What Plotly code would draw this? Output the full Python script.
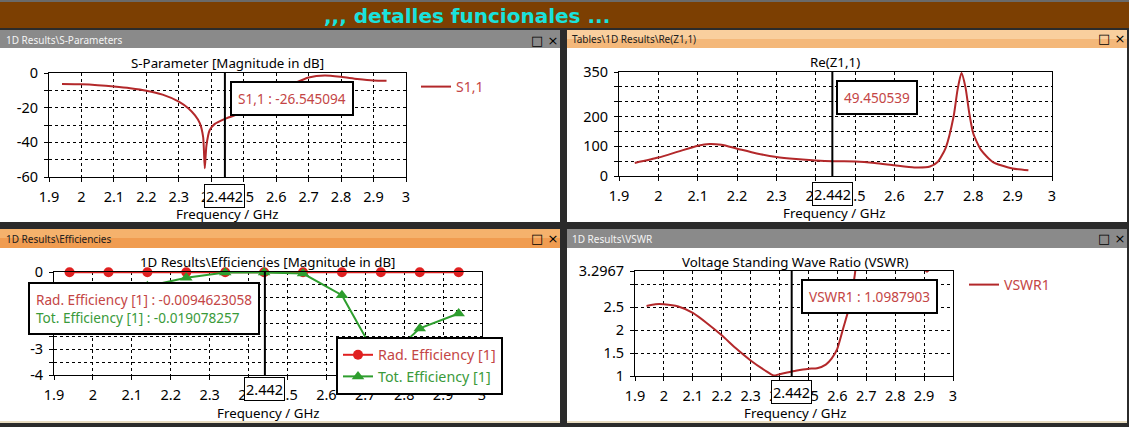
import plotly.graph_objects as go

W, H = 1129, 427

# ---------------- data ----------------
s11_freq = [1.94, 2.0, 2.05, 2.1, 2.15, 2.2, 2.25, 2.3, 2.33, 2.35, 2.365, 2.375, 2.38,
            2.385, 2.395, 2.41, 2.442, 2.47, 2.5, 2.55, 2.6, 2.62, 2.64, 2.66, 2.7,
            2.75, 2.8, 2.85, 2.9, 2.94]
s11_db = [-6.3, -6.5, -7.0, -7.8, -8.8, -10.2, -12.5, -16.5, -20.5, -24.5, -29, -37, -55,
          -42, -33, -29.5, -26.5, -24.5, -22.6, -19.7, -12.7, -9.3, -7.4, -5.6, -2.6,
          -1.4, -2.2, -3.4, -4.3, -4.5]

zre_freq = [1.94, 2.0, 2.05, 2.1, 2.13, 2.16, 2.2, 2.25, 2.3, 2.35, 2.4, 2.442, 2.5, 2.55,
            2.6, 2.65, 2.69, 2.71, 2.73, 2.75, 2.76, 2.77, 2.78, 2.79, 2.8, 2.82, 2.85,
            2.9, 2.94]
zre_ohm = [44, 62, 82, 102, 108, 105, 92, 76, 64, 57, 52, 49.45, 49, 44, 36, 29, 32, 48,
           95, 200, 290, 347, 300, 210, 143, 87, 47, 25, 19]

eff_freq = [1.94, 2.04, 2.14, 2.24, 2.34, 2.44, 2.54, 2.64, 2.74, 2.84, 2.94]
rad_eff_db = [-0.01, -0.01, -0.01, -0.01, -0.01, -0.01, -0.01, -0.01, -0.01, -0.01, -0.01]
tot_eff_db = [-1.1, -0.85, -0.55, -0.22, -0.02, -0.02, -0.06, -0.9, -3.6, -2.19, -1.61]

vswr_freq = [1.94, 1.97, 2.0, 2.05, 2.1, 2.15, 2.2, 2.25, 2.3, 2.35, 2.38, 2.4, 2.442,
             2.47, 2.5, 2.53, 2.56, 2.58, 2.6, 2.62, 2.64, 2.66, 2.68, 2.7, 2.75, 2.8,
             2.85, 2.895, 2.91, 2.925, 2.94]
vswr_val = [2.53, 2.57, 2.57, 2.52, 2.38, 2.15, 1.89, 1.6, 1.34, 1.12, 1.01, 1.04, 1.099,
            1.13, 1.16, 1.17, 1.25, 1.38, 1.6, 2.04, 2.48, 3.2, 4.5, 8.7, 13.4, 7.6,
            5.0, 3.4, 3.28, 3.4, 3.7]

marker_freq = 2.442
marker_label = "2.442"
s11_readout = "S1,1 : -26.545094"
zre_readout = "49.450539"
rad_readout = "Rad. Efficiency [1] : -0.0094623058"
tot_readout = "Tot. Efficiency [1] : -0.019078257"
vswr_readout = "VSWR1 : 1.0987903"

x_tick_vals = [1.9, 2.0, 2.1, 2.2, 2.3, 2.4, 2.5, 2.6, 2.7, 2.8, 2.9, 3.0]
x_tick_text = ["1.9", "2", "2.1", "2.2", "2.3", "2.4", "2.5", "2.6", "2.7", "2.8", "2.9", "3"]
s11_y_vals = [0, -10, -20, -30, -40, -50, -60]
s11_y_text = ["0", "", "-20", "", "-40", "", "-60"]
zre_y_vals = [0, 50, 100, 150, 200, 250, 300, 350]
zre_y_text = ["0", "", "100", "", "200", "", "", "350"]
eff_y_vals = [0, -0.5, -1, -1.5, -2, -2.5, -3, -3.5, -4]
eff_y_text = ["0", "", "", "", "", "", "-3", "", "-4"]
vswr_y_vals = [1, 1.5, 2, 2.5, 3, 3.2967]
vswr_y_text = ["1", "1.5", "2", "2.5", "", "3.2967"]

# ---------------- style ----------------
FONT = "Noto Sans, DejaVu Sans, sans-serif"
CURVE = "#b3282a"
TXT_RED = "#c44545"
RAD_C = "#e02020"
TOT_C = "#2e9e2e"
TXT_GRN = "#3a9a3a"
FS = 13.3
FS_TICK = 14.5


def px(x):
    return x / W


def py(y):
    return 1 - y / H


def rect(x0, y0, x1, y1, color):
    return dict(type="rect", xref="paper", yref="paper", x0=px(x0), x1=px(x1),
                y0=py(y1), y1=py(y0), fillcolor=color, line_width=0, layer="below")


fig = go.Figure()

# traces
fig.add_trace(go.Scatter(x=s11_freq, y=s11_db, mode="lines", name="S1,1",
                         line=dict(color=CURVE, width=2, shape="spline", smoothing=0.6),
                         xaxis="x", yaxis="y", legend="legend"))
fig.add_trace(go.Scatter(x=zre_freq, y=zre_ohm, mode="lines", name="Re(Z1,1)",
                         line=dict(color=CURVE, width=2, shape="spline", smoothing=0.6),
                         xaxis="x2", yaxis="y2", showlegend=False))
fig.add_trace(go.Scatter(x=eff_freq, y=rad_eff_db, mode="lines+markers",
                         name=f"<span style='color:{TXT_RED}'>Rad. Efficiency [1]</span>",
                         line=dict(color=RAD_C, width=2),
                         marker=dict(symbol="circle", size=10, color=RAD_C),
                         cliponaxis=False, xaxis="x3", yaxis="y3", legend="legend3"))
fig.add_trace(go.Scatter(x=eff_freq, y=tot_eff_db, mode="lines+markers",
                         name=f"<span style='color:{TXT_GRN}'>Tot. Efficiency [1]</span>",
                         line=dict(color=TOT_C, width=2),
                         marker=dict(symbol="triangle-up", size=11, color=TOT_C),
                         cliponaxis=False, xaxis="x3", yaxis="y3", legend="legend3"))
fig.add_trace(go.Scatter(x=vswr_freq, y=vswr_val, mode="lines", name="VSWR1",
                         line=dict(color=CURVE, width=2, shape="spline", smoothing=0.5),
                         xaxis="x4", yaxis="y4", legend="legend2"))

axis_common = dict(showline=True, linecolor="black", linewidth=1, mirror=True,
                   showgrid=True, gridcolor="black", griddash="3px,3px", gridwidth=1,
                   zeroline=False, ticks="outside", ticklen=4, tickcolor="black",
                   automargin=False,
                   tickfont=dict(family=FONT, size=FS_TICK, color="black"), fixedrange=True)

panels = [
    # (x0, x1, ytop, ybot, yrange, yvals, ytext)
    (49, 406, 73, 177, [-60, 0], s11_y_vals, s11_y_text),
    (619, 1052, 72, 176, [0, 350], zre_y_vals, zre_y_text),
    (54, 482, 272, 375, [-4, 0], eff_y_vals, eff_y_text),
    (635, 953, 271, 376, [1, 3.2967], vswr_y_vals, vswr_y_text),
]

for i, (x0, x1, yt, yb, yr, yv, ytx) in enumerate(panels, start=1):
    sx = "" if i == 1 else str(i)
    fig.layout["xaxis" + sx] = dict(axis_common, domain=[px(x0), px(x1)],
                                    anchor="y" + sx, range=[1.9, 3.0],
                                    tickvals=x_tick_vals, ticktext=x_tick_text,
                                    ticklabelstandoff=3)
    fig.layout["yaxis" + sx] = dict(axis_common, domain=[py(yb), py(yt)],
                                    anchor="x" + sx, range=yr,
                                    tickvals=yv, ticktext=ytx, ticklabelstandoff=3)

shapes = [
    rect(0, 0, W, 28, "#7c3f02"),
    rect(0, 0, W, 2, "#6a6a6a"),
    rect(0, 48, 560, 222, "white"),
    rect(567, 48, 1127, 222, "white"),
    rect(0, 248, 560, 421, "white"),
    rect(567, 248, 1127, 421, "white"),
    rect(0, 30, 560, 48, "#8a8a8a"),
    rect(567, 30, 1127, 39, "#f9cf9e"),
    rect(567, 39, 1127, 48, "#f4b87a"),
    rect(0, 229, 560, 238, "#f5b26c"),
    rect(0, 238, 560, 248, "#f09c50"),
    rect(567, 229, 1127, 248, "#8a8a8a"),
    rect(0, 421, 560, 423, "#e8dcc0"),
    rect(567, 421, 1127, 423, "#e8dcc0"),
]
for i in range(1, 5):
    sx = "" if i == 1 else str(i)
    shapes.append(dict(type="line", xref="x" + sx, yref="y" + sx + " domain",
                       x0=marker_freq, x1=marker_freq, y0=0, y1=1,
                       line=dict(color="black", width=2), layer="above"))
fig.update_layout(shapes=shapes)

ann = []


def text(x, y, s, size=FS, color="black", xanchor="center", family=FONT, **kw):
    ann.append(dict(xref="paper", yref="paper", x=px(x), y=py(y), text=s, showarrow=False,
                    xanchor=xanchor, yanchor="middle",
                    font=dict(family=family, size=size, color=color), **kw))


# header
text(467, 16, "<b>,,, detalles funcionales ...</b>", size=20, color="#19e2dc",
     family="DejaVu Sans, sans-serif")

# window title bars
text(4, 40, "1D Results\\S-Parameters", size=10, color="#f4f4f4", xanchor="left")
text(570, 39, "Tables\\1D Results\\Re(Z1,1)", size=10, color="#202020", xanchor="left")
text(4, 239, "1D Results\\Efficiencies", size=10, color="#202020", xanchor="left")
text(570, 239, "1D Results\\VSWR", size=10, color="#f4f4f4", xanchor="left")
for (xx, yy) in [(544, 40), (1111, 39), (544, 239), (1111, 239)]:
    text(xx, yy, "□ ×", size=13, color="black",
         family="DejaVu Sans, sans-serif")

# plot titles
text(227, 63, "S-Parameter [Magnitude in dB]")
text(835, 62, "Re(Z1,1)")
text(268, 262, "1D Results\\Efficiencies [Magnitude in dB]")
text(795, 262, "Voltage Standing Wave Ratio (VSWR)")

# axis titles
text(227, 214, "Frequency / GHz")
text(835, 213, "Frequency / GHz")
text(268, 413, "Frequency / GHz")
text(795, 413, "Frequency / GHz")

# marker value boxes below x axis
for i, yy in zip(range(1, 5), [196, 194, 389, 392]):
    sx = "" if i == 1 else str(i)
    ann.append(dict(xref="x" + sx, yref="paper", x=marker_freq, y=py(yy),
                    text=marker_label, showarrow=False, xanchor="center", yanchor="middle",
                    bgcolor="white", bordercolor="black", borderwidth=1, borderpad=1,
                    font=dict(family=FONT, size=FS_TICK, color="black")))

# readout boxes
box = dict(bgcolor="white", bordercolor="black", borderwidth=2, borderpad=6)
text(292, 98, s11_readout, size=13.6, color=TXT_RED, **box)
text(877, 97, zre_readout, size=13.6, color=TXT_RED, **box)
text(144, 308,
     f"<span style='color:{TXT_RED}'>{rad_readout}</span><br>"
     f"<span style='color:{TXT_GRN}'>{tot_readout}</span>",
     size=13.6, align="left", **box)
text(869, 296, vswr_readout, size=13.6, color=TXT_RED, **box)

fig.update_layout(
    annotations=ann,
    width=W, height=H, autosize=False,
    margin=dict(l=0, r=0, t=0, b=0, pad=0),
    paper_bgcolor="#2b2b2b", plot_bgcolor="white",
    font=dict(family=FONT, size=FS, color="black"),
    legend=dict(x=px(416), y=py(71), xanchor="left", yanchor="top",
                bgcolor="rgba(0,0,0,0)", borderwidth=0,
                font=dict(family=FONT, size=14, color=TXT_RED)),
    legend2=dict(x=px(964), y=py(269), xanchor="left", yanchor="top",
                 bgcolor="rgba(0,0,0,0)", borderwidth=0,
                 font=dict(family=FONT, size=14, color=TXT_RED)),
    legend3=dict(x=px(336), y=py(337), xanchor="left", yanchor="top",
                 bgcolor="white", bordercolor="black", borderwidth=2,
                 font=dict(family=FONT, size=14.3, color="black")),
)

fig.write_html("out.html", config={"displayModeBar": False},
               post_script="document.body.style.margin='0';document.body.style.overflow='hidden';")
